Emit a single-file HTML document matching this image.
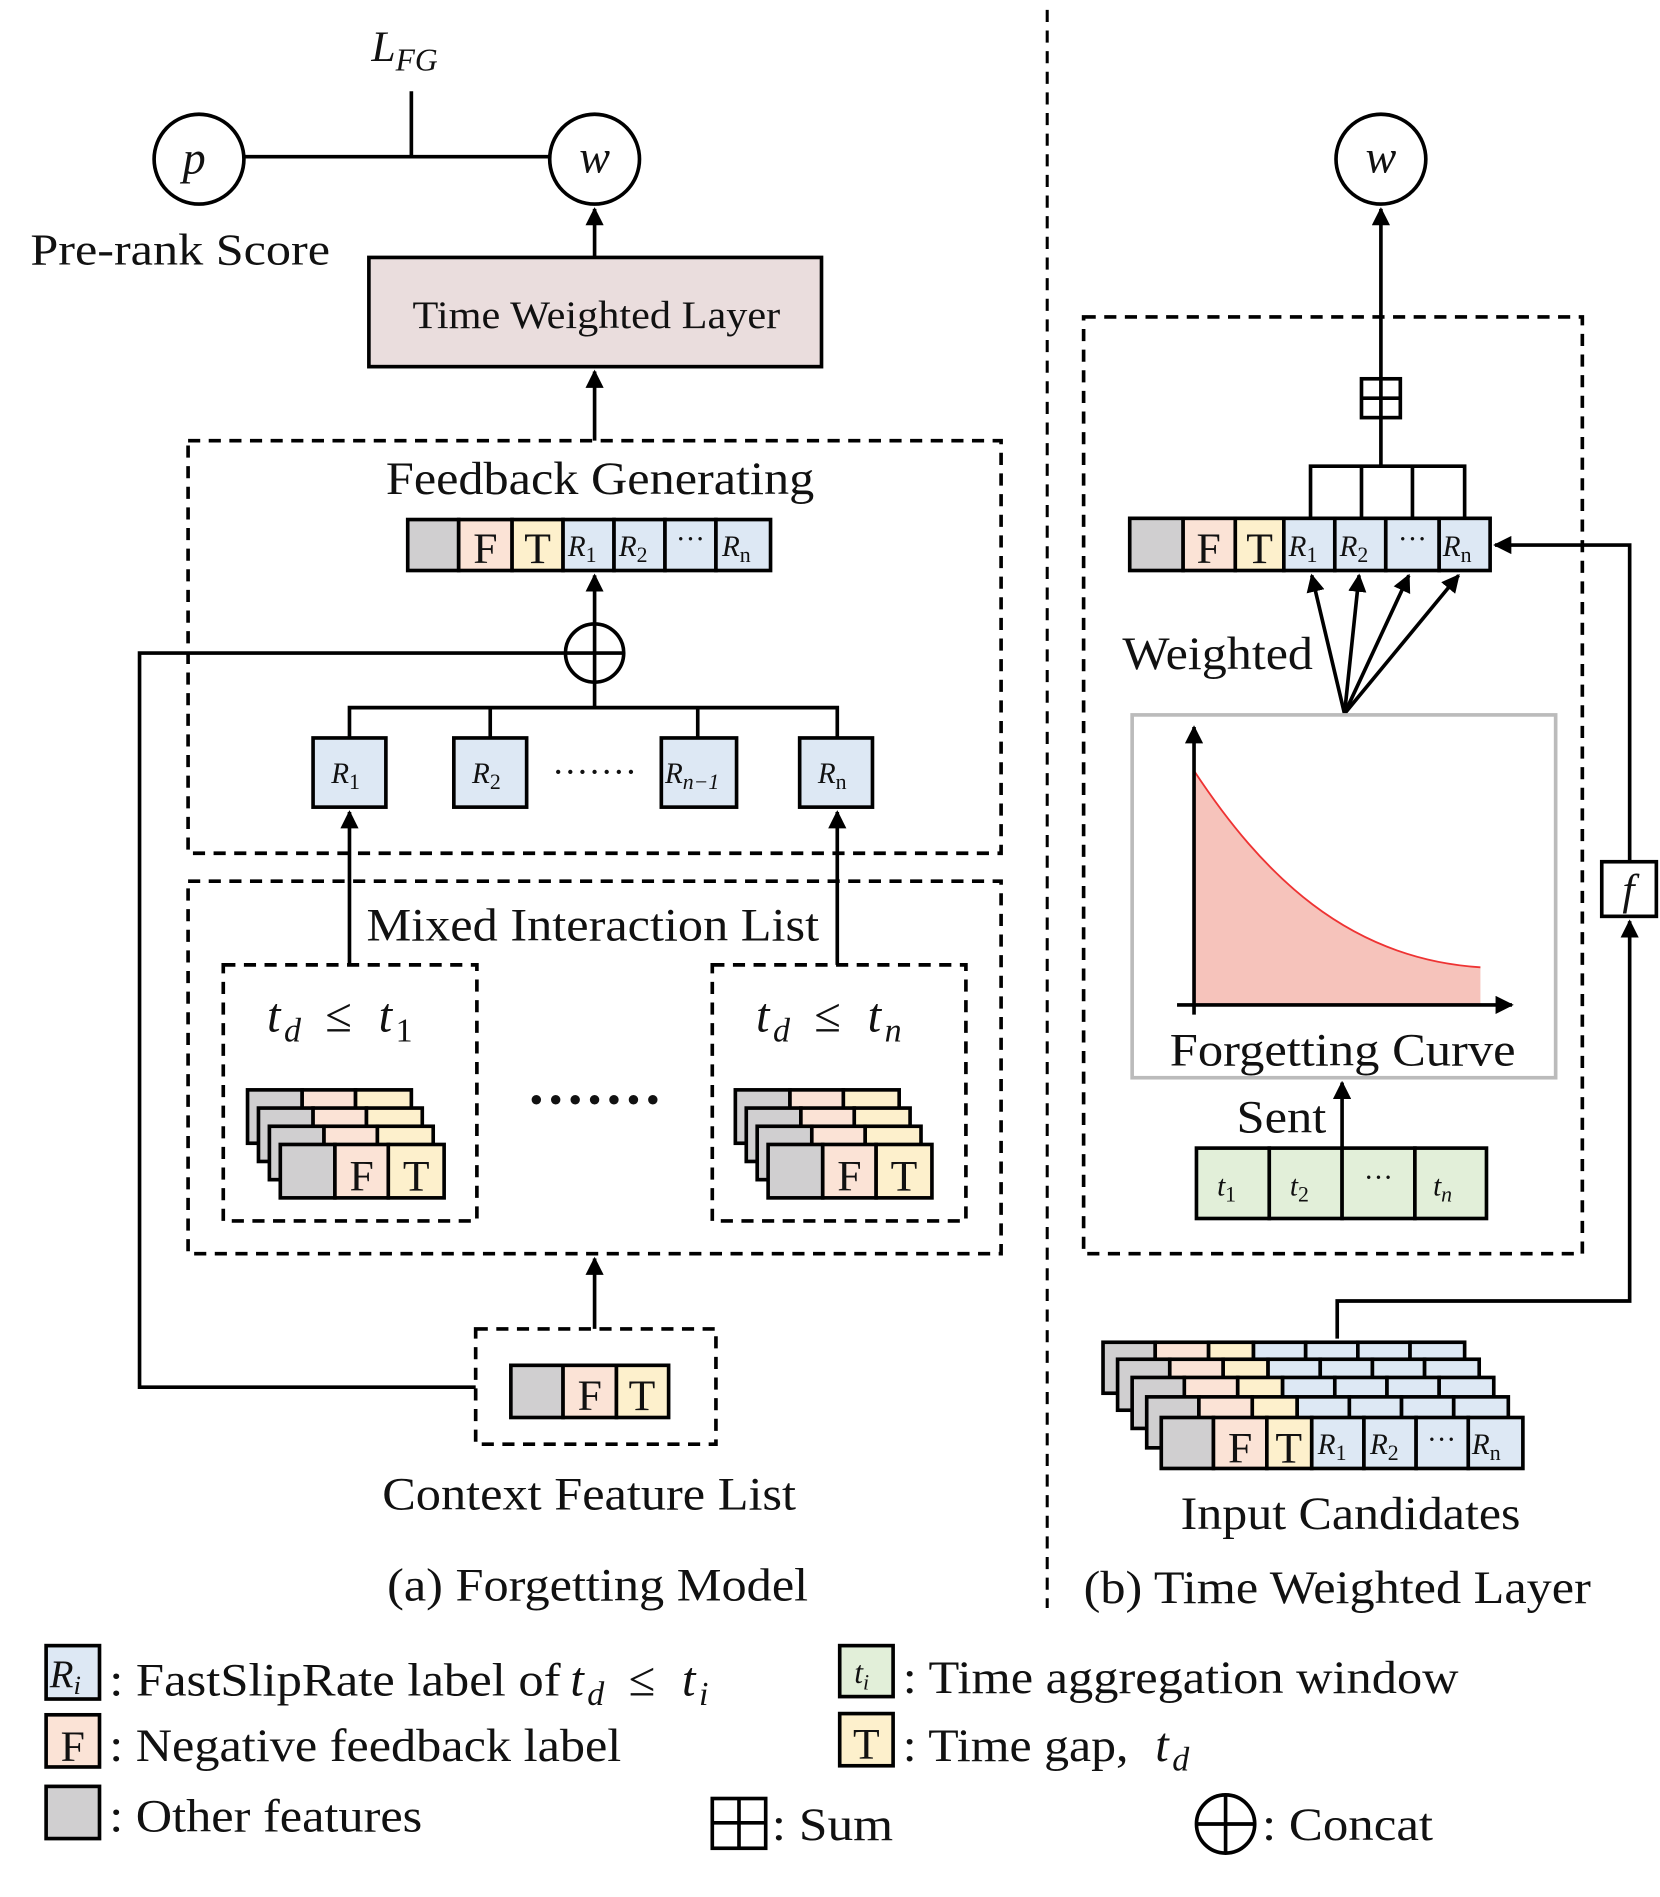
<!DOCTYPE html>
<html><head><meta charset="utf-8"><style>
html,body{margin:0;padding:0;background:#fff;}
svg{display:block;}
text{font-family:"Liberation Serif",serif;fill:#111;}
.i{font-style:italic;}
</style></head><body>
<svg width="1660" height="1897" viewBox="0 0 1368 1563" xmlns="http://www.w3.org/2000/svg">
<defs>
<marker id="a" viewBox="0 0 10 10" refX="9" refY="5" markerWidth="5" markerHeight="5" orient="auto-start-reverse"><path d="M0,0 L10,5 L0,10 z" fill="#000"/></marker>
</defs>
<g stroke="#000" stroke-width="3" fill="none">
<line x1="863" y1="8" x2="863" y2="1325" stroke-dasharray="10,7" stroke-width="2.5"/>
<circle cx="164" cy="131" r="37"/>
<circle cx="490" cy="131" r="37"/>
<line x1="201" y1="129" x2="453" y2="129"/>
<line x1="339" y1="75" x2="339" y2="129"/>
<line x1="490" y1="212" x2="490" y2="172" marker-end="url(#a)"/>
<rect x="304" y="212" width="373" height="90" fill="#eadddd"/>
<line x1="490" y1="363" x2="490" y2="306" marker-end="url(#a)"/>
<rect x="155" y="363" width="670" height="340" stroke-dasharray="10,7"/>
<rect x="336" y="428" width="42" height="42" fill="#d0cfd0"/>
<rect x="378" y="428" width="44" height="42" fill="#fbe3d6"/>
<rect x="422" y="428" width="42" height="42" fill="#fdf0cc"/>
<rect x="464" y="428" width="42" height="42" fill="#dde8f4"/>
<rect x="506" y="428" width="42" height="42" fill="#dde8f4"/>
<rect x="548" y="428" width="42" height="42" fill="#dde8f4"/>
<rect x="590" y="428" width="45" height="42" fill="#dde8f4"/>
<line x1="490" y1="514" x2="490" y2="474" marker-end="url(#a)"/>
<circle cx="490" cy="538" r="24"/>
<line x1="466" y1="538" x2="514" y2="538"/><line x1="490" y1="514" x2="490" y2="562"/>
<polyline points="466,538 115,538 115,1143 392,1143"/>
<line x1="490" y1="562" x2="490" y2="583"/>
<polyline points="288,608 288,583 690,583 690,608"/>
<line x1="404" y1="583" x2="404" y2="608"/><line x1="575" y1="583" x2="575" y2="608"/>
<rect x="258" y="608" width="60" height="57" fill="#dde8f4"/>
<rect x="374" y="608" width="60" height="57" fill="#dde8f4"/>
<rect x="545" y="608" width="62" height="57" fill="#dde8f4"/>
<rect x="659" y="608" width="60" height="57" fill="#dde8f4"/>
<line x1="288" y1="795" x2="288" y2="669" marker-end="url(#a)"/>
<line x1="690" y1="795" x2="690" y2="669" marker-end="url(#a)"/>
<rect x="155" y="726" width="670" height="307" stroke-dasharray="10,7"/>
<rect x="184" y="795" width="209" height="211" stroke-dasharray="10,7"/>
<rect x="587" y="795" width="209" height="211" stroke-dasharray="10,7"/>
<line x1="490" y1="1095" x2="490" y2="1037" marker-end="url(#a)"/>
<rect x="392" y="1095" width="198" height="95" stroke-dasharray="10,7"/>
<rect x="421" y="1125" width="43" height="43" fill="#d0cfd0"/>
<rect x="464" y="1125" width="44" height="43" fill="#fbe3d6"/>
<rect x="508" y="1125" width="43" height="43" fill="#fdf0cc"/>
</g>
<g stroke="#000" stroke-width="3">
<g transform="translate(-27,-45)"><rect x="231" y="943" width="45" height="44" fill="#d0cfd0"/><rect x="276" y="943" width="44" height="44" fill="#fbe3d6"/><rect x="320" y="943" width="46" height="44" fill="#fdf0cc"/></g>
<g transform="translate(-18,-30)"><rect x="231" y="943" width="45" height="44" fill="#d0cfd0"/><rect x="276" y="943" width="44" height="44" fill="#fbe3d6"/><rect x="320" y="943" width="46" height="44" fill="#fdf0cc"/></g>
<g transform="translate(-9,-15)"><rect x="231" y="943" width="45" height="44" fill="#d0cfd0"/><rect x="276" y="943" width="44" height="44" fill="#fbe3d6"/><rect x="320" y="943" width="46" height="44" fill="#fdf0cc"/></g>
<g><rect x="231" y="943" width="45" height="44" fill="#d0cfd0"/><rect x="276" y="943" width="44" height="44" fill="#fbe3d6"/><rect x="320" y="943" width="46" height="44" fill="#fdf0cc"/></g>
<g transform="translate(375,-45)"><rect x="231" y="943" width="45" height="44" fill="#d0cfd0"/><rect x="276" y="943" width="44" height="44" fill="#fbe3d6"/><rect x="320" y="943" width="46" height="44" fill="#fdf0cc"/></g>
<g transform="translate(384,-30)"><rect x="231" y="943" width="45" height="44" fill="#d0cfd0"/><rect x="276" y="943" width="44" height="44" fill="#fbe3d6"/><rect x="320" y="943" width="46" height="44" fill="#fdf0cc"/></g>
<g transform="translate(393,-15)"><rect x="231" y="943" width="45" height="44" fill="#d0cfd0"/><rect x="276" y="943" width="44" height="44" fill="#fbe3d6"/><rect x="320" y="943" width="46" height="44" fill="#fdf0cc"/></g>
<g transform="translate(402,0)"><rect x="231" y="943" width="45" height="44" fill="#d0cfd0"/><rect x="276" y="943" width="44" height="44" fill="#fbe3d6"/><rect x="320" y="943" width="46" height="44" fill="#fdf0cc"/></g>
</g>
<g stroke="#000" stroke-width="3" fill="none">
<circle cx="1138" cy="131" r="37"/>
<line x1="1138" y1="312" x2="1138" y2="172" marker-end="url(#a)"/>
<rect x="893" y="261" width="411" height="772" stroke-dasharray="10,7"/>
<rect x="1122" y="312" width="32" height="32"/>
<line x1="1138" y1="312" x2="1138" y2="344"/><line x1="1122" y1="328" x2="1154" y2="328"/>
<line x1="1138" y1="344" x2="1138" y2="384"/>
<polyline points="1080,427 1080,384 1207,384 1207,427"/>
<line x1="1122" y1="384" x2="1122" y2="427"/><line x1="1164" y1="384" x2="1164" y2="427"/>
<rect x="931" y="427" width="44" height="43" fill="#d0cfd0"/>
<rect x="975" y="427" width="43" height="43" fill="#fbe3d6"/>
<rect x="1018" y="427" width="40" height="43" fill="#fdf0cc"/>
<rect x="1058" y="427" width="42" height="43" fill="#dde8f4"/>
<rect x="1100" y="427" width="42" height="43" fill="#dde8f4"/>
<rect x="1142" y="427" width="44" height="43" fill="#dde8f4"/>
<rect x="1186" y="427" width="42" height="43" fill="#dde8f4"/>
<polyline points="1343,710 1343,449 1232,449" marker-end="url(#a)"/>
<rect x="1320" y="710" width="45" height="45"/>
<polyline points="1102,1103 1102,1072 1343,1072 1343,759" marker-end="url(#a)"/>
<line x1="1108" y1="588" x2="1081" y2="474" marker-end="url(#a)"/>
<line x1="1108" y1="588" x2="1120" y2="474" marker-end="url(#a)"/>
<line x1="1108" y1="588" x2="1161" y2="474" marker-end="url(#a)"/>
<line x1="1108" y1="588" x2="1202" y2="474" marker-end="url(#a)"/>
<rect x="933" y="589" width="349" height="299" stroke="#bbb"/>
<path d="M984,635 C1040,720 1110,790 1220,797 L1220,828 L984,828 Z" fill="#f6c3bb" stroke="none"/>
<path d="M984,635 C1040,720 1110,790 1220,797" stroke="#e33" stroke-width="1.5"/>
<line x1="984" y1="836" x2="984" y2="599" marker-end="url(#a)"/>
<line x1="970" y1="828" x2="1246" y2="828" marker-end="url(#a)"/>
<line x1="1106" y1="945" x2="1106" y2="892" marker-end="url(#a)"/>
<rect x="986" y="946" width="60" height="58" fill="#e2efd9"/>
<rect x="1046" y="946" width="60" height="58" fill="#e2efd9"/>
<rect x="1106" y="946" width="60" height="58" fill="#e2efd9"/>
<rect x="1166" y="946" width="59" height="58" fill="#e2efd9"/>
</g>
<g stroke="#000" stroke-width="3">
<g transform="translate(-48,-62)"><rect x="957" y="1168" width="43" height="42" fill="#d0cfd0"/><rect x="1000" y="1168" width="44" height="42" fill="#fbe3d6"/><rect x="1044" y="1168" width="37" height="42" fill="#fdf0cc"/><rect x="1081" y="1168" width="43" height="42" fill="#dde8f4"/><rect x="1124" y="1168" width="43" height="42" fill="#dde8f4"/><rect x="1167" y="1168" width="43" height="42" fill="#dde8f4"/><rect x="1210" y="1168" width="45" height="42" fill="#dde8f4"/></g>
<g transform="translate(-36,-48)"><rect x="957" y="1168" width="43" height="42" fill="#d0cfd0"/><rect x="1000" y="1168" width="44" height="42" fill="#fbe3d6"/><rect x="1044" y="1168" width="37" height="42" fill="#fdf0cc"/><rect x="1081" y="1168" width="43" height="42" fill="#dde8f4"/><rect x="1124" y="1168" width="43" height="42" fill="#dde8f4"/><rect x="1167" y="1168" width="43" height="42" fill="#dde8f4"/><rect x="1210" y="1168" width="45" height="42" fill="#dde8f4"/></g>
<g transform="translate(-24,-33)"><rect x="957" y="1168" width="43" height="42" fill="#d0cfd0"/><rect x="1000" y="1168" width="44" height="42" fill="#fbe3d6"/><rect x="1044" y="1168" width="37" height="42" fill="#fdf0cc"/><rect x="1081" y="1168" width="43" height="42" fill="#dde8f4"/><rect x="1124" y="1168" width="43" height="42" fill="#dde8f4"/><rect x="1167" y="1168" width="43" height="42" fill="#dde8f4"/><rect x="1210" y="1168" width="45" height="42" fill="#dde8f4"/></g>
<g transform="translate(-12,-17)"><rect x="957" y="1168" width="43" height="42" fill="#d0cfd0"/><rect x="1000" y="1168" width="44" height="42" fill="#fbe3d6"/><rect x="1044" y="1168" width="37" height="42" fill="#fdf0cc"/><rect x="1081" y="1168" width="43" height="42" fill="#dde8f4"/><rect x="1124" y="1168" width="43" height="42" fill="#dde8f4"/><rect x="1167" y="1168" width="43" height="42" fill="#dde8f4"/><rect x="1210" y="1168" width="45" height="42" fill="#dde8f4"/></g>
<g><rect x="957" y="1168" width="43" height="42" fill="#d0cfd0"/><rect x="1000" y="1168" width="44" height="42" fill="#fbe3d6"/><rect x="1044" y="1168" width="37" height="42" fill="#fdf0cc"/><rect x="1081" y="1168" width="43" height="42" fill="#dde8f4"/><rect x="1124" y="1168" width="43" height="42" fill="#dde8f4"/><rect x="1167" y="1168" width="43" height="42" fill="#dde8f4"/><rect x="1210" y="1168" width="45" height="42" fill="#dde8f4"/></g>
<rect x="38" y="1356" width="44" height="44" fill="#dde8f4"/>
<rect x="38" y="1413" width="44" height="43" fill="#fbe3d6"/>
<rect x="38" y="1472" width="44" height="43" fill="#d0cfd0"/>
<rect x="692" y="1356" width="44" height="42" fill="#e2efd9"/>
<rect x="692" y="1412" width="44" height="43" fill="#fdf0cc"/>
<rect x="587" y="1482" width="44" height="41" fill="none"/>
<line x1="609" y1="1482" x2="609" y2="1523"/><line x1="587" y1="1502" x2="631" y2="1502"/>
<circle cx="1010" cy="1503" r="24" fill="none"/>
<line x1="986" y1="1503" x2="1034" y2="1503"/><line x1="1010" y1="1479" x2="1010" y2="1527"/>
</g>
<!-- texts -->
<text x="306" y="50" font-size="36" class="i">L<tspan font-size="26" dy="8">FG</tspan></text>
<text x="160" y="143" font-size="38" class="i" text-anchor="middle">p</text>
<text x="490" y="142" font-size="38" class="i" text-anchor="middle">w</text>
<text x="1138" y="142" font-size="38" class="i" text-anchor="middle">w</text>
<text x="25" y="218" font-size="37" textLength="247" lengthAdjust="spacingAndGlyphs">Pre-rank Score</text>
<text x="340" y="270" font-size="32" textLength="303" lengthAdjust="spacingAndGlyphs">Time Weighted Layer</text>
<text x="318" y="407" font-size="38" textLength="353" lengthAdjust="spacingAndGlyphs">Feedback Generating</text>
<g font-size="36" text-anchor="middle">
<text x="400" y="464">F</text><text x="443" y="464">T</text>
<text x="996" y="464">F</text><text x="1038" y="464">T</text>
<text x="486" y="1162">F</text><text x="529" y="1162">T</text>
<text x="298" y="981">F</text><text x="343" y="981">T</text>
<text x="700" y="981">F</text><text x="745" y="981">T</text>
<text x="1022" y="1205">F</text><text x="1062" y="1205">T</text>
<text x="60" y="1451">F</text><text x="714" y="1449">T</text>
</g>
<g font-size="24" class="i">
<text x="468" y="458">R<tspan font-size="18" dy="5" font-style="normal">1</tspan></text>
<text x="510" y="458">R<tspan font-size="18" dy="5" font-style="normal">2</tspan></text>
<text x="595" y="458">R<tspan font-size="18" dy="5" font-style="normal">n</tspan></text>
<text x="1062" y="458">R<tspan font-size="18" dy="5" font-style="normal">1</tspan></text>
<text x="1104" y="458">R<tspan font-size="18" dy="5" font-style="normal">2</tspan></text>
<text x="1189" y="458">R<tspan font-size="18" dy="5" font-style="normal">n</tspan></text>
<text x="1086" y="1198">R<tspan font-size="18" dy="5" font-style="normal">1</tspan></text>
<text x="1129" y="1198">R<tspan font-size="18" dy="5" font-style="normal">2</tspan></text>
<text x="1213" y="1198">R<tspan font-size="18" dy="5" font-style="normal">n</tspan></text>
<text x="273" y="645">R<tspan font-size="18" dy="5" font-style="normal">1</tspan></text>
<text x="389" y="645">R<tspan font-size="18" dy="5" font-style="normal">2</tspan></text>
<text x="548" y="645">R<tspan font-size="18" dy="5">n−1</tspan></text>
<text x="674" y="645">R<tspan font-size="18" dy="5" font-style="normal">n</tspan></text>
<text x="1003" y="985">t<tspan font-size="18" dy="5" font-style="normal">1</tspan></text>
<text x="1063" y="985">t<tspan font-size="18" dy="5" font-style="normal">2</tspan></text>
<text x="1181" y="985">t<tspan font-size="18" dy="5">n</tspan></text>
</g>
<g font-size="24" text-anchor="middle"><text x="569" y="452">···</text><text x="1164" y="452">···</text><text x="1136" y="978">···</text><text x="1188" y="1194">···</text></g>
<text x="490" y="646" font-size="30" text-anchor="middle">·······</text>
<text x="302" y="775" font-size="38" textLength="373" lengthAdjust="spacingAndGlyphs">Mixed Interaction List</text>
<g font-size="40" class="i">
<text x="220" y="850">t</text><text x="234" y="858" font-size="28">d</text><text x="268" y="850" font-style="normal">≤</text><text x="312" y="850">t</text><text x="326" y="858" font-size="28" font-style="normal">1</text>
<text x="623" y="850">t</text><text x="637" y="858" font-size="28">d</text><text x="671" y="850" font-style="normal">≤</text><text x="715" y="850">t</text><text x="729" y="858" font-size="28">n</text>
</g>
<text x="490" y="922" font-size="48" font-weight="bold" text-anchor="middle">·······</text>
<text x="315" y="1244" font-size="38" textLength="341" lengthAdjust="spacingAndGlyphs">Context Feature List</text>
<text x="319" y="1319" font-size="38" textLength="347" lengthAdjust="spacingAndGlyphs">(a) Forgetting Model</text>
<text x="925" y="551" font-size="38" textLength="157" lengthAdjust="spacingAndGlyphs">Weighted</text>
<text x="964" y="878" font-size="38" textLength="285" lengthAdjust="spacingAndGlyphs">Forgetting Curve</text>
<text x="1019" y="933" font-size="38" textLength="74" lengthAdjust="spacingAndGlyphs">Sent</text>
<text x="1342" y="745" font-size="36" class="i" text-anchor="middle">f</text>
<text x="973" y="1260" font-size="38" textLength="280" lengthAdjust="spacingAndGlyphs">Input Candidates</text>
<text x="893" y="1321" font-size="38" textLength="418" lengthAdjust="spacingAndGlyphs">(b) Time Weighted Layer</text>
<!-- legend text -->
<text x="41" y="1390" font-size="32" class="i">R<tspan font-size="22" dy="6">i</tspan></text>
<text x="90" y="1397" font-size="38" textLength="372" lengthAdjust="spacingAndGlyphs">: FastSlipRate label of</text>
<g font-size="40" class="i">
<text x="470" y="1397">t</text><text x="484" y="1405" font-size="28">d</text><text x="518" y="1397" font-style="normal">≤</text><text x="562" y="1397">t</text><text x="576" y="1405" font-size="28">i</text>
<text x="952" y="1451">t</text><text x="966" y="1459" font-size="28">d</text>
</g>
<text x="90" y="1451" font-size="38" textLength="422" lengthAdjust="spacingAndGlyphs">: Negative feedback label</text>
<text x="90" y="1509" font-size="38" textLength="258" lengthAdjust="spacingAndGlyphs">: Other features</text>
<text x="704" y="1387" font-size="26" class="i">t<tspan font-size="18" dy="5">i</tspan></text>
<text x="744" y="1395" font-size="38" textLength="458" lengthAdjust="spacingAndGlyphs">: Time aggregation window</text>
<text x="744" y="1451" font-size="38" textLength="186" lengthAdjust="spacingAndGlyphs">: Time gap,</text>
<text x="636" y="1516" font-size="38" textLength="100" lengthAdjust="spacingAndGlyphs">: Sum</text>
<text x="1040" y="1516" font-size="38" textLength="141" lengthAdjust="spacingAndGlyphs">: Concat</text>
</svg>
</body></html>
